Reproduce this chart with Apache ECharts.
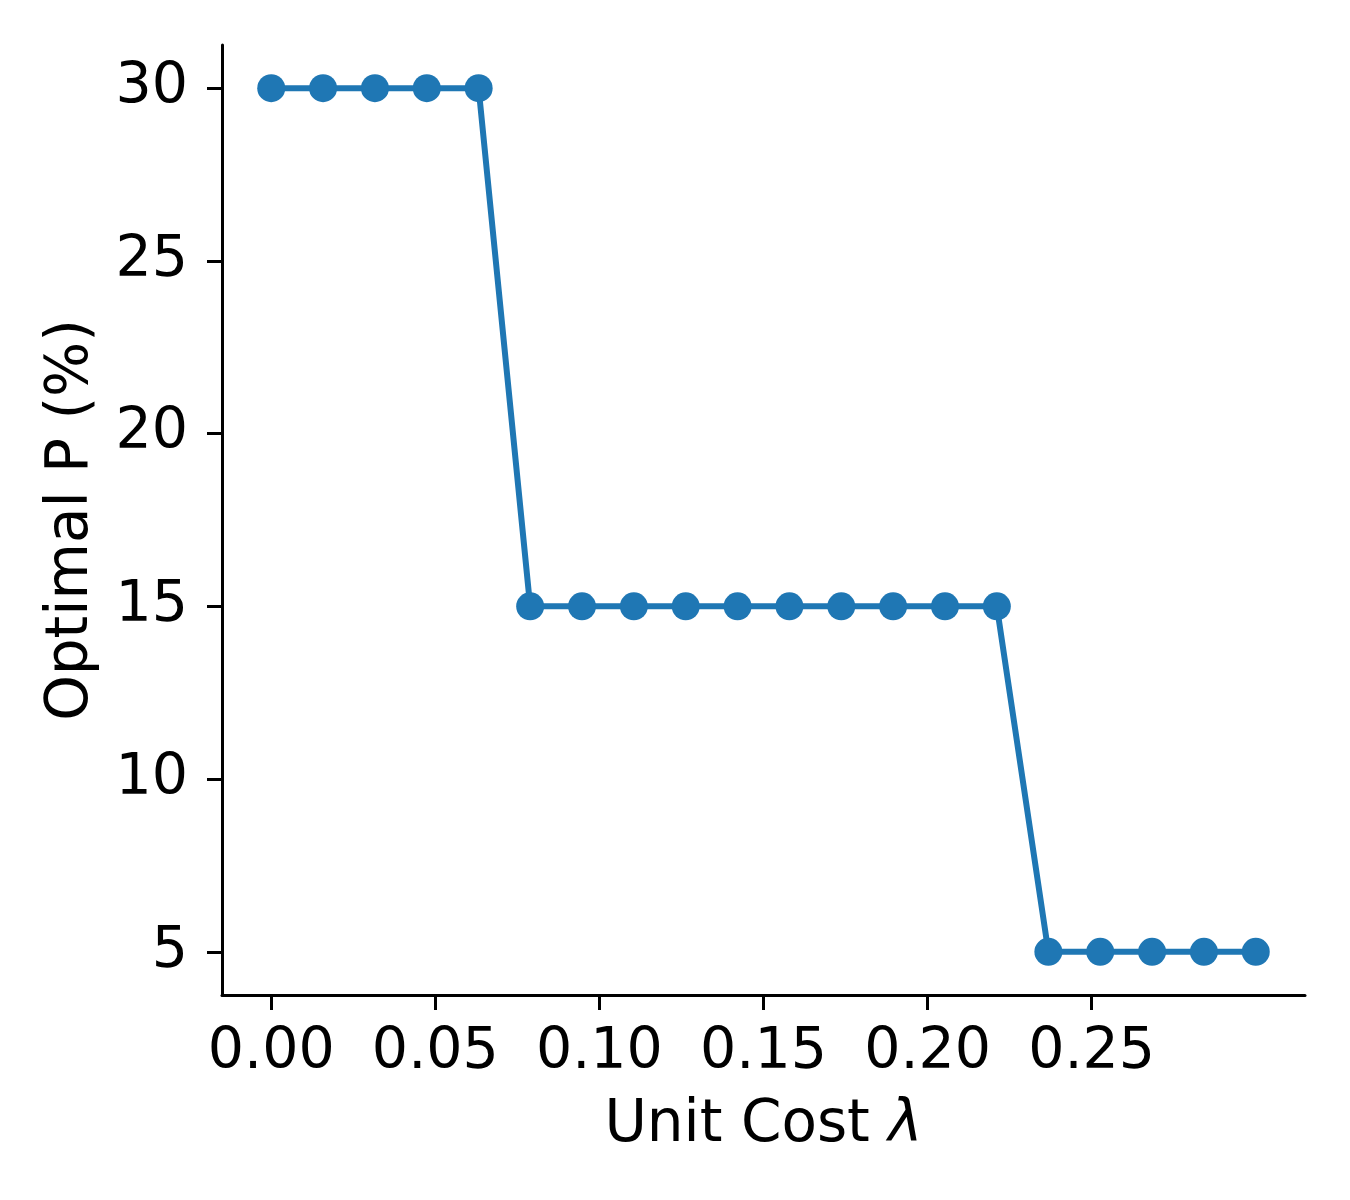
<!DOCTYPE html>
<html><head><meta charset="utf-8">
<script src="https://cdn.jsdelivr.net/npm/echarts@6/dist/echarts.min.js"></script>
<style>html,body{margin:0;padding:0;background:#fff}#c{width:1350px;height:1200px}</style>
</head><body><div id="c"></div>
<script>
const unitCost = [0.0000, 0.0158, 0.0316, 0.0474, 0.0632, 0.0789, 0.0947, 0.1105, 0.1263, 0.1421,
                  0.1579, 0.1737, 0.1895, 0.2053, 0.2211, 0.2368, 0.2526, 0.2684, 0.2842, 0.3000];
const optimalP = [30, 30, 30, 30, 30, 15, 15, 15, 15, 15, 15, 15, 15, 15, 15, 5, 5, 5, 5, 5];
const xTicks = [0, 0.05, 0.10, 0.15, 0.20, 0.25];
const yTicks = [5, 10, 15, 20, 25, 30];

const font = 'DejaVu Sans';
const fs = 57;
const ns = 58;
const chart = echarts.init(document.getElementById('c'));
chart.setOption({
  animation: false,
  backgroundColor: '#fff',
  grid: {left: 222, top: 45, right: 45, bottom: 205, containLabel: false},
  xAxis: {
    type: 'value', min: -0.015, max: 0.315,
    axisLine: {show: true, onZero: false, lineStyle: {color: '#000', width: 3}},
    axisTick: {show: true, customValues: xTicks, length: 15, lineStyle: {color: '#000', width: 3}},
    axisLabel: {customValues: xTicks, formatter: v => v.toFixed(2), color: '#000', fontSize: fs, fontFamily: font, margin: 30},
    splitLine: {show: false},
    name: '{a|Unit Cost }{b|λ}', nameLocation: 'middle', nameGap: 102,
    nameTextStyle: {color: '#000', fontSize: ns, fontFamily: font,
      rich: {a: {fontSize: ns, fontFamily: font, color: '#000'}, b: {fontSize: ns, fontFamily: font, fontStyle: 'italic', color: '#000'}}}
  },
  yAxis: {
    type: 'value', min: 3.75, max: 31.25,
    axisLine: {show: true, onZero: false, lineStyle: {color: '#000', width: 3}},
    axisTick: {show: true, customValues: yTicks, length: 15, lineStyle: {color: '#000', width: 3}},
    axisLabel: {customValues: yTicks, color: '#000', fontSize: fs, fontFamily: font, margin: 34},
    splitLine: {show: false},
    name: 'Optimal P (%)', nameLocation: 'middle', nameGap: 121,
    nameTextStyle: {color: '#000', fontSize: ns, fontFamily: font}
  },
  series: [{
    type: 'line',
    data: unitCost.map((x, i) => [x, optimalP[i]]),
    symbol: 'circle', symbolSize: 28,
    lineStyle: {color: '#1f77b4', width: 6},
    itemStyle: {color: '#1f77b4'}
  }]
});
</script></body></html>
